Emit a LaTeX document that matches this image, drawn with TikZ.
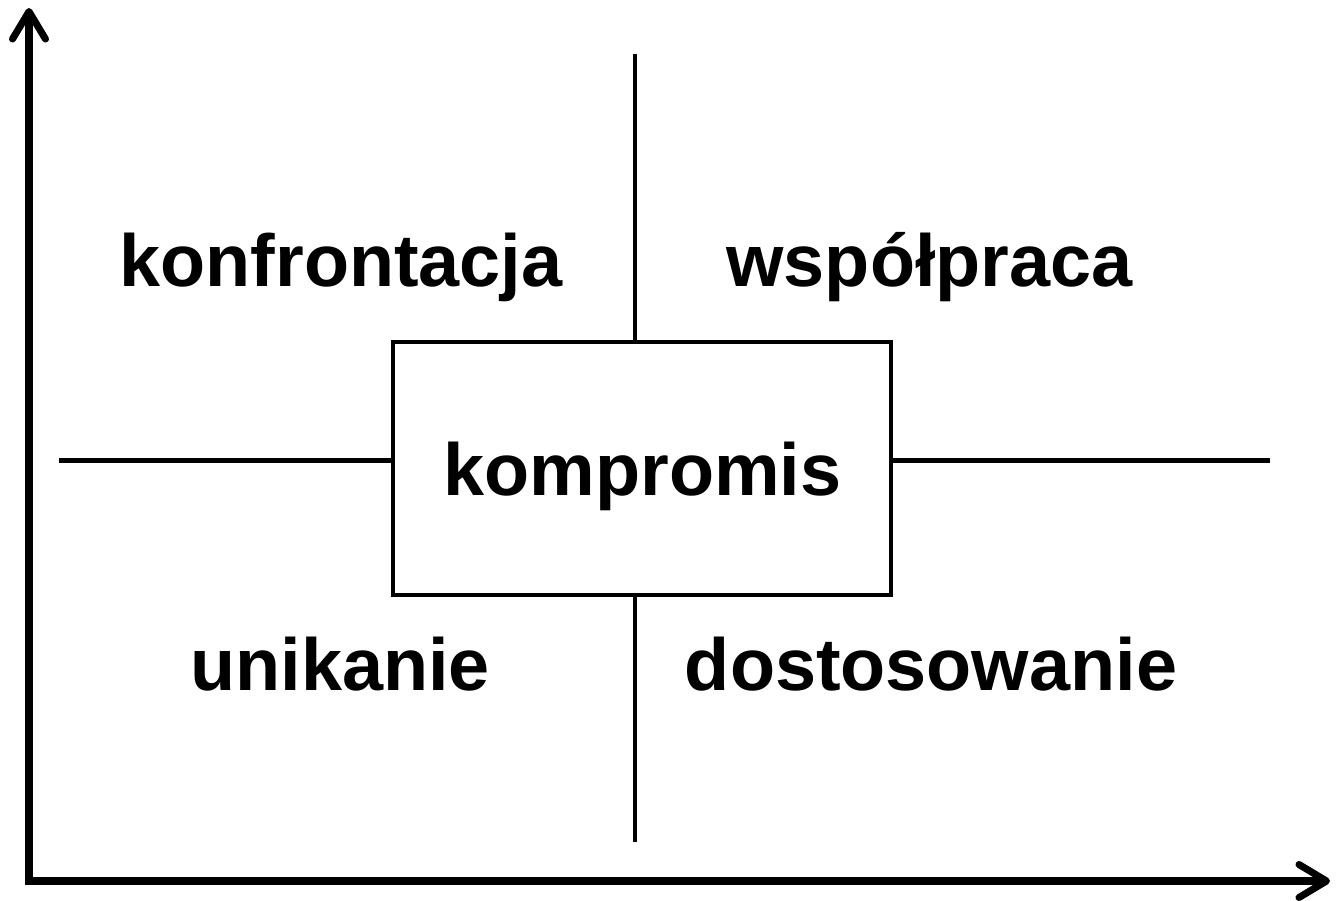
\documentclass[tikz,border=0pt]{standalone}
\usepackage{fontspec}
\setmainfont{Liberation Sans}
\usetikzlibrary{positioning,arrows.meta}

\tikzset{
  axis/.style={line width=4pt, line join=miter,
    {Straight Barb[length=5.5mm,width=6.6mm,round]}-{Straight Barb[length=5.5mm,width=6.6mm,round]}},
  divider/.style={line width=2.3pt},
  stylebox/.style={draw, line width=2.3pt, minimum width=9.96cm, minimum height=5.06cm, inner sep=0pt, outer sep=0pt},
  quadrant/.style={font=\fontsize{42}{50}\selectfont\bfseries, anchor=base, inner sep=0pt},
}

\begin{document}
\begin{tikzpicture}
    \useasboundingbox (0,0) rectangle (26.72,18);
    % Axes
    \coordinate (origin) at (0.58,0.38);
    \coordinate (ytip) at (0.58,17.84);
    \coordinate (xtip) at (26.6,0.38);
    \draw[axis] (ytip) -- (origin) -- (xtip);
    % Central box
    \node[stylebox] (komp) at (12.84,8.63) {};
    \node[quadrant] (kompt) at (12.85,8.09) {kompromis};
    % Dividing lines
    \coordinate (vtop) at (12.7,16.92);
    \coordinate (vbot) at (12.7,1.16);
    \coordinate (hleft) at (1.18,8.79);
    \coordinate (hright) at (25.4,8.79);
    \draw[divider] (vtop) -- (vtop |- komp.north);
    \draw[divider] (vbot) -- (vbot |- komp.south);
    \draw[divider] (hleft) -- (hleft -| komp.west);
    \draw[divider] (hright) -- (hright -| komp.east);
    % Quadrants
    \node[quadrant] (konf) at (6.82,12.27) {konfrontacja};
    \node[quadrant] (wspol) at (18.59,12.27) {współpraca};
    \node[quadrant] (unik) at (6.8,4.2) {unikanie};
    \node[quadrant] (dost) at (18.62,4.2) {dostosowanie};
\end{tikzpicture}
\end{document}
